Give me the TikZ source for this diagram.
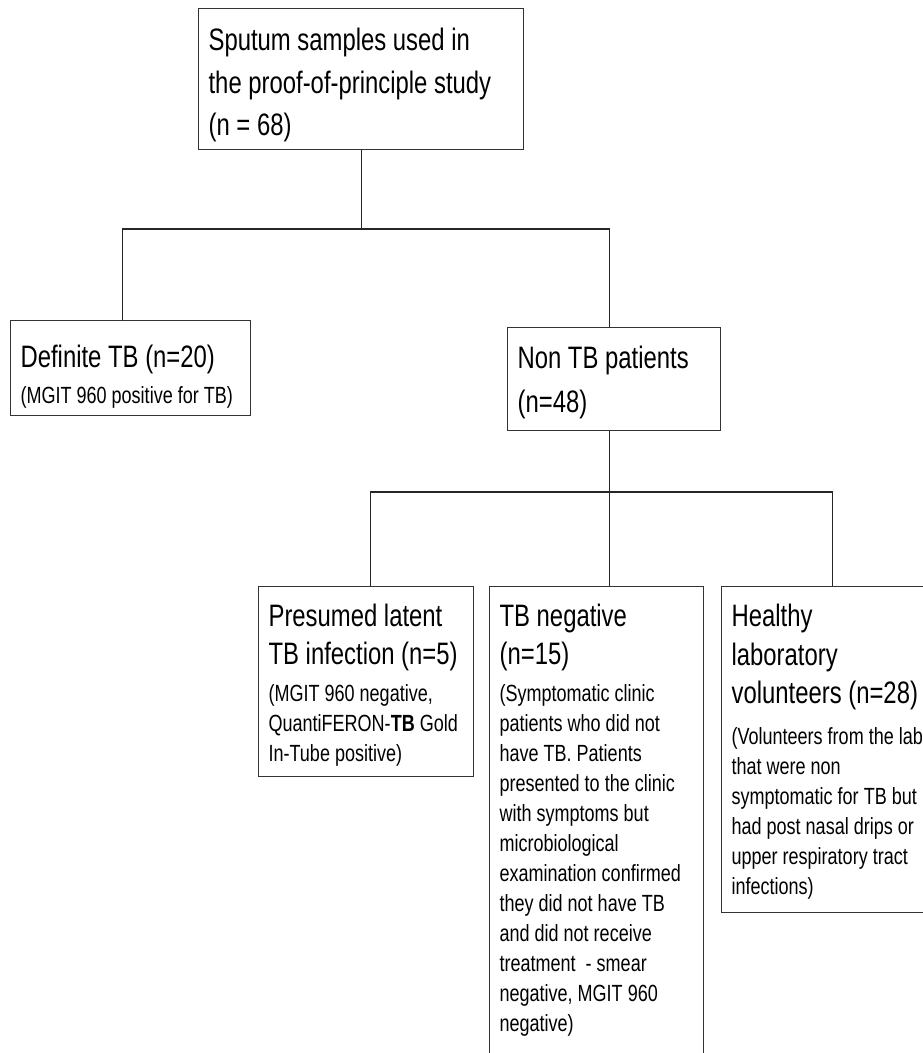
\documentclass[tikz,border=0pt]{standalone}
\usepackage{fontspec}
\setmainfont{Liberation Sans}[FakeStretch=0.77]
\usetikzlibrary{positioning}
\newcommand{\narrowspace}{\spaceskip=0.214em plus 0.05em\xspaceskip=\spaceskip}
\newcommand{\bigfont}{\fontsize{31}{37.5}\selectfont}
\newcommand{\notefont}{\fontsize{23.4}{30}\selectfont\narrowspace}
\newcommand{\boxnote}[2][7pt]{\par\vspace{#1}{\notefont #2\par}}

\begin{document}
\begin{tikzpicture}[x=1pt, y=-1pt, font=\bigfont,
      blk/.style={draw=black!80, line width=1.2pt, anchor=north west, inner xsep=10pt, inner ysep=0pt, align=left,
                  execute at begin node=\narrowspace},
      link/.style={draw=black!85, line width=1.1pt}]
  \clip (0,0) rectangle (923,1053);
  \node[blk, text width=305pt, text height=42pt, text depth=99pt, font={\fontsize{31}{42.5}\selectfont}] (pool) at (198,8) {Sputum samples used in\\the proof-of-principle study\\(n = 68)};
  \node[blk, text width=220pt, text height=47pt, text depth=48pt] (deftb) at (10,320) {Definite TB (n=20)\boxnote[5.5pt]{(MGIT 960 positive for TB)}};
  \node[blk, text width=193pt, text height=41pt, text depth=62pt, font={\fontsize{31}{44}\selectfont}] (nontb) at (507,327) {Non TB patients\\(n=48)};
  \node[blk, text width=195pt, text height=40pt, text depth=150pt] (latent) at (258,586) {Presumed latent\\TB infection (n=5)\boxnote{(MGIT 960 negative,\\QuantiFERON-\textbf{TB} Gold\\In-Tube positive)}};
  \node[blk, text width=194pt, text height=40pt, text depth=440pt] (tbneg) at (489,586) {TB negative\\(n=15)\boxnote{(Symptomatic clinic\\patients who did not\\have TB. Patients\\presented to the clinic\\with symptoms but\\microbiological\\examination confirmed\\they did not have TB\\and did not receive\\treatment \ - smear\\negative, MGIT 960\\negative)}};
  \node[blk, text width=202pt, text height=40pt, text depth=286pt, font={\fontsize{31}{38.5}\selectfont}] (healthy) at (721,586) {Healthy\\laboratory\\volunteers (n=28)\boxnote[11pt]{(Volunteers from the lab\\that were non\\symptomatic for TB but\\had post nasal drips or\\upper respiratory tract\\infections)}};
  % branch lines
  \coordinate (bus1) at (0,229);
  \coordinate (bus2) at (0,492);
  \draw[link] (pool.south) -- (pool.south |- bus1);
  \draw[link] ([xshift=-8pt]deftb.north) |- ([xshift=-4.5pt]nontb.north |- bus1) -- ([xshift=-4.5pt]nontb.north);
  \draw[link] ([xshift=-4.5pt]nontb.south) -- ([xshift=-4.5pt]nontb.south |- tbneg.north);
  \draw[link] ([xshift=4.5pt]latent.north) |- (healthy.north |- bus2) -- (healthy.north);
\end{tikzpicture}
\end{document}
